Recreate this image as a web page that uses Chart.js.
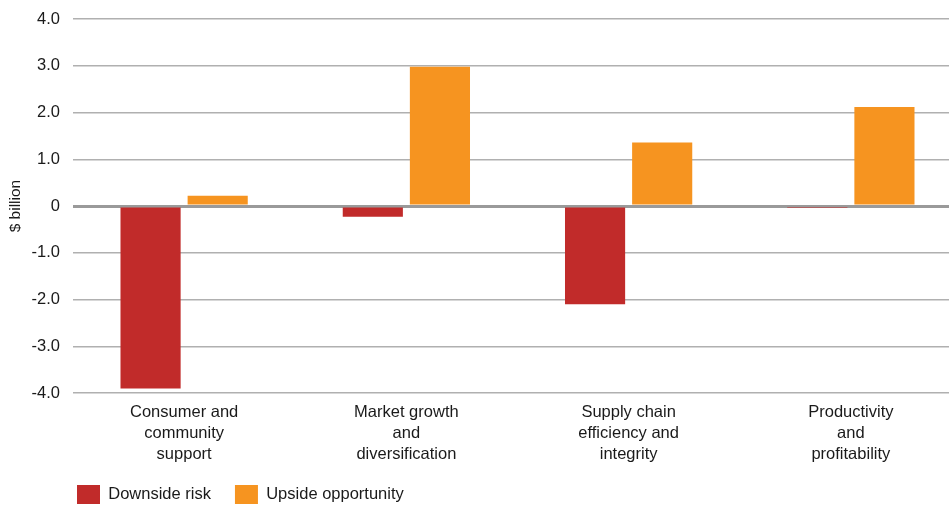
<!DOCTYPE html>
<html>
<head>
<meta charset="utf-8">
<script src="https://cdn.jsdelivr.net/npm/chart.js@4/dist/chart.umd.min.js"></script>
<style>
  html, body { margin: 0; padding: 0; background: #fff; overflow: hidden; }
  #wrap { position: relative; width: 962px; height: 505px; }
</style>
</head>
<body>
<div id="wrap"><canvas id="c" width="962" height="505"></canvas></div>
<script>
const categories = [
  ["Consumer and", "community", "support"],
  ["Market growth", "and", "diversification"],
  ["Supply chain", "efficiency and", "integrity"],
  ["Productivity", "and", "profitability"]
];
const downsideRisk = [-3.9, -0.23, -2.1, -0.02];
const upsideOpportunity = [0.22, 2.98, 1.36, 2.12];
const yTicks = [-4, -3, -2, -1, 0, 1, 2, 3, 4];

const FONT = "'Liberation Sans', Arial, Helvetica, sans-serif";

const legendShift = {
  id: 'legendShift',
  afterLayout(chart) {
    const lg = chart.legend;
    if (lg) { lg.left += 47; lg.right += 47; lg.top -= 13; lg.bottom -= 13; }
  }
};

new Chart(document.getElementById('c'), {
  type: 'bar',
  data: {
    labels: categories,
    datasets: [
      { label: 'Downside risk', data: downsideRisk, backgroundColor: '#c12b2a', borderWidth: 0 },
      { label: 'Upside opportunity', data: upsideOpportunity, backgroundColor: '#f69420', borderWidth: 0 }
    ]
  },
  plugins: [legendShift],
  options: {
    responsive: false,
    animation: false,
    devicePixelRatio: 1,
    layout: { padding: { top: 19, left: 6, right: 0, bottom: -22 } },
    datasets: { bar: { categoryPercentage: 0.604, barPercentage: 0.896 } },
    plugins: {
      tooltip: { enabled: false },
      legend: {
        position: 'bottom',
        align: 'start',
        labels: {
          boxWidth: 23,
          boxHeight: 19,
          padding: 24,
          color: '#1a1a1a',
          font: { family: FONT, size: 16.5 }
        }
      }
    },
    scales: {
      x: {
        grid: { display: false, drawTicks: false },
        border: { display: false },
        ticks: {
          color: '#1a1a1a',
          font: { family: FONT, size: 16.5, lineHeight: 1.27 },
          padding: 9,
          maxRotation: 0,
          autoSkip: false
        }
      },
      y: {
        min: -4,
        max: 4,
        afterBuildTicks(scale) { scale.ticks = yTicks.map(v => ({ value: v })); },
        afterFit(scale) { scale.width = 67; scale.paddingTop = 0; },
        border: { display: false },
        grid: {
          drawTicks: false,
          color: ctx => ctx.tick && ctx.tick.value === 0 ? '#9a9a9a' : '#b0b0b0',
          lineWidth: ctx => ctx.tick && ctx.tick.value === 0 ? 3 : 1.5
        },
        ticks: {
          color: '#1a1a1a',
          font: { family: FONT, size: 16.5 },
          padding: 13,
          callback: v => v === 0 ? '0' : v.toFixed(1)
        },
        title: {
          display: true,
          text: '$ billion',
          color: '#1a1a1a',
          font: { family: FONT, size: 15.5 },
          padding: { top: 0, bottom: 0 }
        }
      }
    }
  }
});
</script>
</body>
</html>
